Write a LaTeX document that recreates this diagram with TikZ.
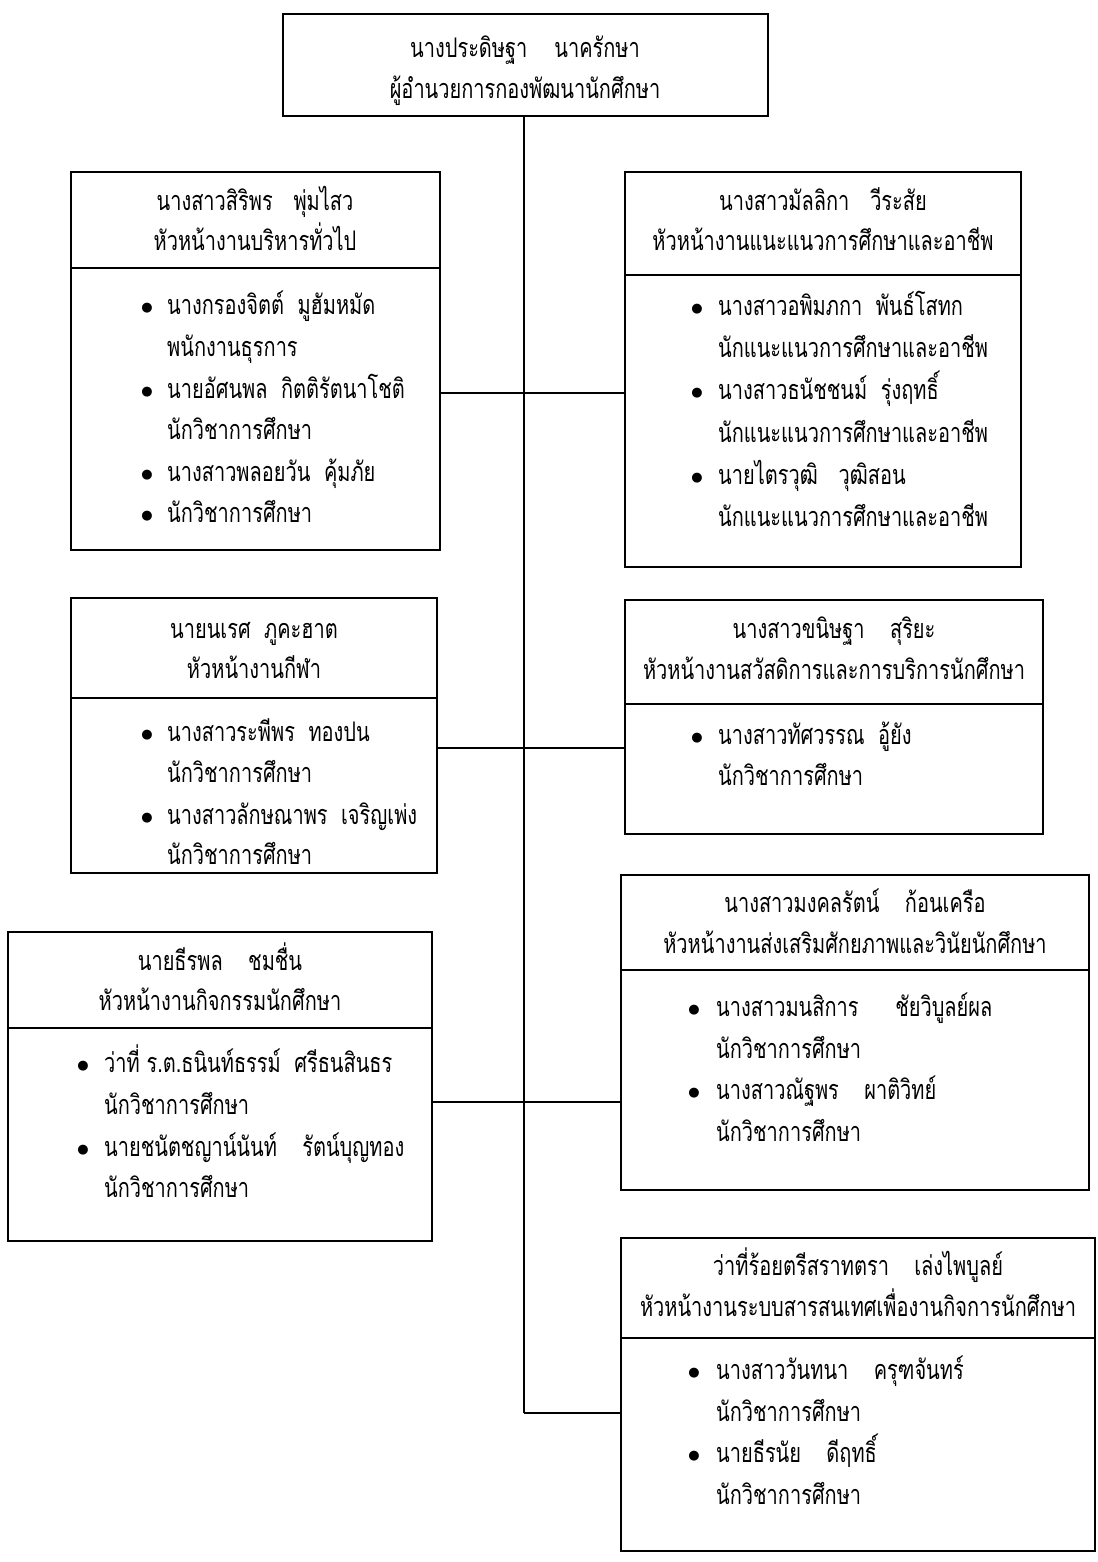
\documentclass[tikz,border=0pt]{standalone}
\usepackage{fontspec}
\setmainfont[Script=Thai,FakeStretch=0.74]{Loma}
\newfontfamily\bulfont{DejaVu Sans}
\newcommand\gp[1]{\hspace*{#1em}}
\begin{document}
\begin{tikzpicture}[x=1pt,y=-1pt,
  box/.style={draw, line width=1.6pt, rectangle, inner sep=0pt, outer sep=0pt, anchor=north west},
  conn/.style={line width=1.6pt},
  lbl/.style={inner sep=0pt, font=\fontsize{27}{31}\selectfont, text height=17pt, text depth=5pt},
  itm/.style={lbl, anchor=west},
  bul/.style={inner sep=0pt, font=\bulfont\fontsize{13}{15}\selectfont}]
\useasboundingbox (0,0) rectangle (1097,1562);
% boxes
\node[box, minimum width=485pt, minimum height=102pt] (top) at (283,14) {};
\node[box, minimum width=369pt, minimum height=378pt] (b1) at (71,172) {};
\node[box, minimum width=396pt, minimum height=395pt] (b2) at (625,172) {};
\node[box, minimum width=366pt, minimum height=275pt] (b3) at (71,598) {};
\node[box, minimum width=418pt, minimum height=234pt] (b4) at (625,600) {};
\node[box, minimum width=424pt, minimum height=309pt] (b5) at (8,932) {};
\node[box, minimum width=468pt, minimum height=315pt] (b6) at (621,875) {};
\node[box, minimum width=474pt, minimum height=313pt] (b7) at (621,1238) {};
% dividers
\draw[conn] (b1.west |- 0,268) -- (b1.east |- 0,268);
\draw[conn] (b2.west |- 0,275) -- (b2.east |- 0,275);
\draw[conn] (b3.west |- 0,698) -- (b3.east |- 0,698);
\draw[conn] (b4.west |- 0,704) -- (b4.east |- 0,704);
\draw[conn] (b5.west |- 0,1028) -- (b5.east |- 0,1028);
\draw[conn] (b6.west |- 0,970) -- (b6.east |- 0,970);
\draw[conn] (b7.west |- 0,1338) -- (b7.east |- 0,1338);
% connectors
\coordinate (j1) at (524,393);
\coordinate (j2) at (524,748);
\coordinate (j3) at (524,1102);
\coordinate (j4) at (524,1413);
\draw[conn] (top.south -| j1) -- (j4);
\draw[conn] (b1.east |- j1) -- (b2.west |- j1);
\draw[conn] (b3.east |- j2) -- (b4.west |- j2);
\draw[conn] (b5.east |- j3) -- (b6.west |- j3);
\draw[conn] (j4) -- (b7.west |- j4);
% top
\node[lbl] (t1) at (525,52) {นางประดิษฐา\gp{1.0}นาครักษา};
\node[lbl] (t2) at (525,93) {ผู้อำนวยการกองพัฒนานักศึกษา};
% box 1
\node[lbl] (b1h1) at (255,205) {นางสาวสิริพร\gp{0.77}พุ่มไสว};
\node[lbl] (b1h2) at (255,245) {หัวหน้างานบริหารทั่วไป};
\node[bul] (b1d1) at (147,308) {●};
\node[itm] (b1i1) at (167,308) {นางกรองจิตต์\gp{0.5}มูฮัมหมัด};
\node[itm] (b1i2) at (167,350) {พนักงานธุรการ};
\node[bul] (b1d2) at (147,392) {●};
\node[itm] (b1i3) at (167,392) {นายอัศนพล\gp{0.5}กิตติรัตนาโชติ};
\node[itm] (b1i4) at (167,433) {นักวิชาการศึกษา};
\node[bul] (b1d3) at (147,475) {●};
\node[itm] (b1i5) at (167,475) {นางสาวพลอยวัน\gp{0.5}คุ้มภัย};
\node[bul] (b1d4) at (147,516) {●};
\node[itm] (b1i6) at (167,516) {นักวิชาการศึกษา};
% box 2
\node[lbl] (b2h1) at (823,205) {นางสาวมัลลิกา\gp{0.77}วีระสัย};
\node[lbl] (b2h2) at (823,245) {หัวหน้างานแนะแนวการศึกษาและอาชีพ};
\node[bul] (b2d1) at (697,309) {●};
\node[itm] (b2i1) at (718,309) {นางสาวอพิมภกา\gp{0.5}พันธ์โสทก};
\node[itm] (b2i2) at (718,351) {นักแนะแนวการศึกษาและอาชีพ};
\node[bul] (b2d2) at (697,393) {●};
\node[itm] (b2i3) at (718,393) {นางสาวธนัชชนม์\gp{0.5}รุ่งฤทธิ์};
\node[itm] (b2i4) at (718,436) {นักแนะแนวการศึกษาและอาชีพ};
\node[bul] (b2d3) at (697,478) {●};
\node[itm] (b2i5) at (718,478) {นายไตรวุฒิ\gp{0.77}วุฒิสอน};
\node[itm] (b2i6) at (718,520) {นักแนะแนวการศึกษาและอาชีพ};
% box 3
\node[lbl] (b3h1) at (254,632) {นายนเรศ\gp{0.5}ภูคะฮาต};
\node[lbl] (b3h2) at (254,672) {หัวหน้างานกีฬา};
\node[bul] (b3d1) at (147,735) {●};
\node[itm] (b3i1) at (167,735) {นางสาวระพีพร\gp{0.5}ทองปน};
\node[itm] (b3i2) at (167,776) {นักวิชาการศึกษา};
\node[bul] (b3d2) at (147,818) {●};
\node[itm] (b3i3) at (167,818) {นางสาวลักษณาพร\gp{0.5}เจริญเพ่ง};
\node[itm] (b3i4) at (167,858) {นักวิชาการศึกษา};
% box 4
\node[lbl] (b4h1) at (834,632) {นางสาวขนิษฐา\gp{0.94}สุริยะ};
\node[lbl] (b4h2) at (834,673) {หัวหน้างานสวัสดิการและการบริการนักศึกษา};
\node[bul] (b4d1) at (697,738) {●};
\node[itm] (b4i1) at (718,738) {นางสาวทัศวรรณ\gp{0.5}อู้ยัง};
\node[itm] (b4i2) at (718,779) {นักวิชาการศึกษา};
% box 5
\node[lbl] (b5h1) at (220,964) {นายธีรพล\gp{0.94}ชมชื่น};
\node[lbl] (b5h2) at (220,1004) {หัวหน้างานกิจกรรมนักศึกษา};
\node[bul] (b5d1) at (83,1066) {●};
\node[itm] (b5i1) at (104,1066) {ว่าที่ ร.ต.ธนินท์ธรรม์\gp{0.5}ศรีธนสินธร};
\node[itm] (b5i2) at (104,1108) {นักวิชาการศึกษา};
\node[bul] (b5d2) at (83,1150) {●};
\node[itm] (b5i3) at (104,1150) {นายชนัตชญาน์นันท์\gp{0.94}รัตน์บุญทอง};
\node[itm] (b5i4) at (104,1191) {นักวิชาการศึกษา};
% box 6
\node[lbl] (b6h1) at (855,906) {นางสาวมงคลรัตน์\gp{0.94}ก้อนเครือ};
\node[lbl] (b6h2) at (855,947) {หัวหน้างานส่งเสริมศักยภาพและวินัยนักศึกษา};
\node[bul] (b6d1) at (694,1010) {●};
\node[itm] (b6i1) at (716,1010) {นางสาวมนสิการ\gp{1.36}ชัยวิบูลย์ผล};
\node[itm] (b6i2) at (716,1052) {นักวิชาการศึกษา};
\node[bul] (b6d2) at (694,1093) {●};
\node[itm] (b6i3) at (716,1093) {นางสาวณัฐพร\gp{0.94}ผาติวิทย์};
\node[itm] (b6i4) at (716,1135) {นักวิชาการศึกษา};
% box 7
\node[lbl] (b7h1) at (858,1269) {ว่าที่ร้อยตรีสราทตรา\gp{0.94}เล่งไพบูลย์};
\node[lbl] (b7h2) at (858,1310) {หัวหน้างานระบบสารสนเทศเพื่องานกิจการนักศึกษา};
\node[bul] (b7d1) at (694,1373) {●};
\node[itm] (b7i1) at (716,1373) {นางสาววันทนา\gp{0.94}ครุฑจันทร์};
\node[itm] (b7i2) at (716,1415) {นักวิชาการศึกษา};
\node[bul] (b7d2) at (694,1456) {●};
\node[itm] (b7i3) at (716,1456) {นายธีรนัย\gp{0.94}ดีฤทธิ์};
\node[itm] (b7i4) at (716,1498) {นักวิชาการศึกษา};
\end{tikzpicture}
\end{document}
